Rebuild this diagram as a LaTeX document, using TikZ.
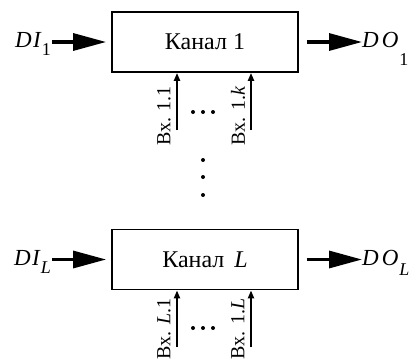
\documentclass[tikz,border=0pt]{standalone}
\usepackage{fontspec}
\setmainfont{Liberation Serif}
\usetikzlibrary{arrows.meta}
\newcommand{\subdn}[2]{\raisebox{-#1}{\fontsize{18}{20}\selectfont #2}}
\begin{document}
\begin{tikzpicture}[x=1pt,y=-1pt,
  chan/.style={draw, line width=1.8pt, minimum width=186pt, minimum height=60pt,
    inner sep=0pt, font=\fontsize{24}{27}\selectfont},
  bigarrow/.style={line width=3.2pt, -{Triangle[length=33pt,width=17pt]}},
  inarrow/.style={line width=2.6pt, -{Triangle[length=8pt,width=6pt]}},
  lbl/.style={rotate=90, font=\fontsize{20}{22}\selectfont, inner sep=0pt},
  sig/.style={font=\fontsize{23}{26}\selectfont, inner sep=0pt},
  dot/.style={circle, fill, inner sep=0pt, minimum size=4pt}]
\path[use as bounding box] (0,0) rectangle (417,362);

% channel blocks
\node[chan] (ch1) at (205,42) {Канал 1};
\node[chan] (chL) at (205,259.5) {Канал \,\textit{L}};

% data inputs and outputs
\node[sig, anchor=base east] (di1) at (51,47) {\textit{D\kern1.5pt I}\subdn{8pt}{1}};
\node[sig, anchor=base west] (do1) at (362,47) {\textit{D\kern3pt O}\kern1pt\subdn{18pt}{1}};
\node[sig, anchor=base east] (diL) at (51,265) {\textit{D\kern1.5pt I}\subdn{8pt}{\textit{L}}};
\node[sig, anchor=base west] (doL) at (362,265) {\textit{D\kern3pt O}\kern1pt\subdn{10pt}{\textit{L}}};

\coordinate (i1) at (52,42);
\coordinate (o1) at (362,42);
\coordinate (iL) at (52,259.5);
\coordinate (oL) at (362,259.5);
\draw[bigarrow, shorten >=5pt] (i1) -- (ch1.west);
\draw[bigarrow] (ch1.east) ++(8,0) coordinate (o1s) -- (o1);
\draw[bigarrow, shorten >=5pt] (iL) -- (chL.west);
\draw[bigarrow] (chL.east) ++(8,0) coordinate (oLs) -- (oL);

% control inputs of channel 1
\coordinate (a1) at (177,130);
\coordinate (b1) at (251,130);
\draw[inarrow] (a1) -- (a1 |- ch1.south);
\draw[inarrow] (b1) -- (b1 |- ch1.south);
\node[lbl] (la1) at (164,116) {Вх. 1.1};
\node[lbl] (lb1) at (238,116) {Вх. 1.\textit{k}};
\node[dot] (h1a) at (193,112) {};
\node[dot] (h1b) at (203,112) {};
\node[dot] (h1c) at (213,112) {};

% control inputs of channel L
\coordinate (aL) at (177,347);
\coordinate (bL) at (251,347);
\draw[inarrow] (aL) -- (aL |- chL.south);
\draw[inarrow] (bL) -- (bL |- chL.south);
\node[lbl] (laL) at (164,329) {Вх. \textit{L}.1};
\node[lbl] (lbL) at (238,329) {Вх. 1.\textit{L}};
\node[dot] (hLa) at (193,328) {};
\node[dot] (hLb) at (203,328) {};
\node[dot] (hLc) at (213,328) {};

% vertical ellipsis between the channels
\node[dot] (v1) at (203,160) {};
\node[dot] (v2) at (203,177) {};
\node[dot] (v3) at (203,195) {};
\end{tikzpicture}
\end{document}
